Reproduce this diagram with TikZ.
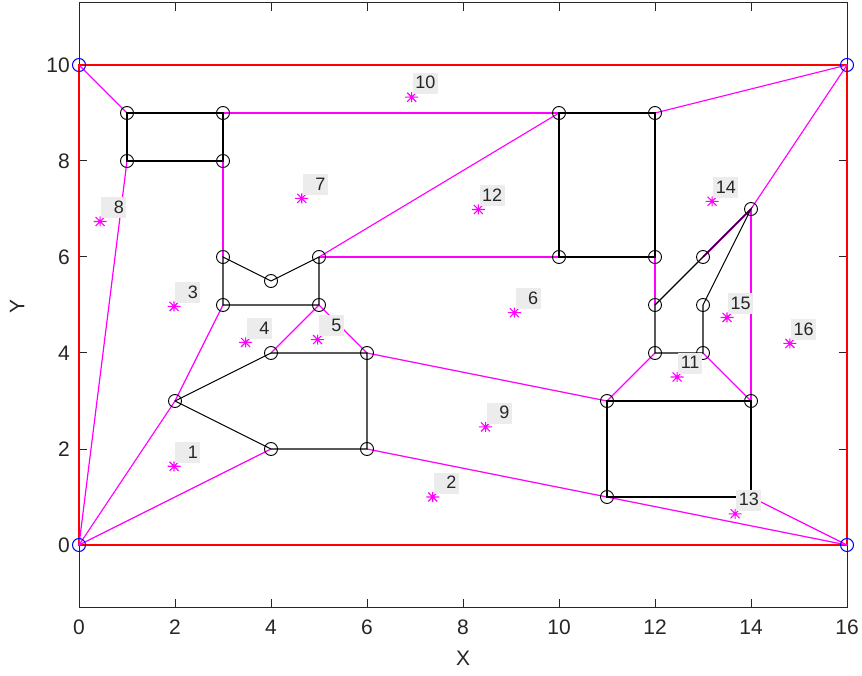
\documentclass[tikz,border=0pt]{standalone}
\usepackage{fontspec}
\setmainfont{Liberation Sans}
\definecolor{tagbg}{RGB}{236,236,236}
\definecolor{mag}{RGB}{255,0,255}
\definecolor{bred}{RGB}{255,0,0}
\definecolor{bblue}{RGB}{0,0,255}
\begin{document}
\begin{tikzpicture}[x=48pt,y=48pt,
  axframe/.style={line width=1pt, black!85},
  axtick/.style={line width=1pt, black!85},
  boundary/.style={bred, line width=1.8pt},
  obst/.style={black, line width=1.1pt},
  vlink/.style={mag, line width=1.2pt},
  vtx/.style={circle, draw=black, line width=0.9pt, minimum size=13pt, inner sep=0pt},
  cvtx/.style={circle, draw=bblue, line width=1pt, minimum size=13pt, inner sep=0pt},
  ticklab/.style={font=\fontsize{21}{24}\selectfont, inner sep=0pt, text=black!85},
  numtag/.style={fill=tagbg, font=\fontsize{18}{20}\selectfont, text=black!85, inner xsep=2.5pt, inner ysep=1pt, text height=15pt, text depth=4pt, anchor=south west, xshift=1pt, yshift=3pt},
  ast/.pic={\draw[mag, line width=1.1pt] (-6.5pt,0)--(6.5pt,0) (0,-5pt)--(0,5pt) (-4.5pt,-4.5pt)--(4.5pt,4.5pt) (-4.5pt,4.5pt)--(4.5pt,-4.5pt);}
]
\useasboundingbox (-79pt,-130pt) rectangle (783pt,545pt);

% axes frame and ticks
\draw[axframe] (0,-1.3) rectangle (16,11.3);
\foreach \x in {0,2,...,16} {
  \draw[axtick] (\x,-1.3) -- ++(0,8pt);
  \draw[axtick] (\x,11.3) -- ++(0,-8pt);
  \node[ticklab, anchor=north, yshift=-12pt] (xl\x) at (\x,-1.3) {\x};
}
\foreach \y in {0,2,...,10} {
  \draw[axtick] (0,\y) -- ++(8pt,0);
  \draw[axtick] (16,\y) -- ++(-8pt,0);
  \node[ticklab, anchor=east, xshift=-9pt] (yl\y) at (0,\y) {\y};
}
\node[ticklab] (xlab) at (8,-2.35) {X};
\node[ticklab, rotate=90] (ylab) at (-1.29,4.96) {Y};

% vertices
\coordinate (c1) at (0,0);  \coordinate (c2) at (16,0);
\coordinate (c3) at (16,10); \coordinate (c4) at (0,10);
\coordinate (a1) at (1,9); \coordinate (a2) at (3,9); \coordinate (a3) at (3,8); \coordinate (a4) at (1,8);
\coordinate (b1) at (3,6); \coordinate (b2) at (4,5.5); \coordinate (b3) at (5,6); \coordinate (b4) at (5,5); \coordinate (b5) at (3,5);
\coordinate (d1) at (2,3); \coordinate (d2) at (4,4); \coordinate (d3) at (6,4); \coordinate (d4) at (6,2); \coordinate (d5) at (4,2);
\coordinate (e1) at (10,9); \coordinate (e2) at (12,9); \coordinate (e3) at (12,6); \coordinate (e4) at (10,6);
\coordinate (f1) at (12,5); \coordinate (f2) at (13,6); \coordinate (f3) at (14,7); \coordinate (f4) at (13,5); \coordinate (f5) at (13,4); \coordinate (f6) at (12,4);
\coordinate (g1) at (11,3); \coordinate (g2) at (14,3); \coordinate (g3) at (14,1); \coordinate (g4) at (11,1);

% boundary
\draw[boundary] (c1) -- (c2) -- (c3) -- (c4) -- cycle;

% visibility links
\draw[vlink] (c4) -- (a1);
\draw[vlink] (a4) -- (c1);
\draw[vlink] (a2) -- (e1);
\draw[vlink] (a3) -- (b1);
\draw[vlink] (b5) -- (d1);
\draw[vlink] (d1) -- (c1);
\draw[vlink] (c1) -- (d5);
\draw[vlink] (d2) -- (b4);
\draw[vlink] (b4) -- (d3);
\draw[vlink] (b3) -- (e1);
\draw[vlink] (b3) -- (e4);
\draw[vlink] (e2) -- (c3);
\draw[vlink] (c3) -- (f3);
\draw[vlink] (f3) -- (g2);
\draw[vlink] (e3) -- (f1);
\draw[vlink] (f6) -- (g1);
\draw[vlink] (f5) -- (g2);
\draw[vlink] (d3) -- (g1);
\draw[vlink] (d4) -- (g4);
\draw[vlink] (g4) -- (c2);
\draw[vlink] (g3) -- (c2);
\draw[vlink, line width=1.8pt] (f2) -- (f3);

% obstacles
\draw[obst] (a1) -- (a2) -- (a3) -- (a4) -- cycle;
\draw[obst] (b1) -- (b2) -- (b3) -- (b4) -- (b5) -- cycle;
\draw[obst] (d1) -- (d2) -- (d3) -- (d4) -- (d5) -- cycle;
\draw[obst] (e1) -- (e2) -- (e3) -- (e4) -- cycle;
\draw[obst] (f1) -- (f2) -- (f3) -- (f4) -- (f5) -- (f6) -- cycle;
\draw[obst] (g1) -- (g2) -- (g3) -- (g4) -- cycle;

% vertex markers
\foreach \v in {a1,a2,a3,a4,b1,b2,b3,b4,b5,d1,d2,d3,d4,d5,e1,e2,e3,e4,f1,f2,f3,f4,f5,f6,g1,g2,g3,g4}
  \node[vtx] (n\v) at (\v) {};
\foreach \v in {c1,c2,c3,c4}
  \node[cvtx] (n\v) at (\v) {};

% numbered points
\foreach \i/\px/\py in {1/1.98/1.64, 2/7.37/1.0, 3/1.98/4.97, 4/3.47/4.22, 5/4.97/4.28, 6/9.07/4.84, 7/4.64/7.22, 8/0.44/6.74, 9/8.47/2.46, 10/6.93/9.33, 11/12.46/3.5, 12/8.32/6.99, 13/13.67/0.65, 14/13.19/7.16, 15/13.5/4.74, 16/14.81/4.2} {
  \coordinate (s\i) at (\px,\py);
  \pic at (s\i) {ast};
}
\foreach \i in {1,...,9}
  \node[numtag] (t\i) at (s\i) {\phantom{0}\i};
\foreach \i in {10,...,16}
  \node[numtag] (t\i) at (s\i) {\i};
\end{tikzpicture}
\end{document}
